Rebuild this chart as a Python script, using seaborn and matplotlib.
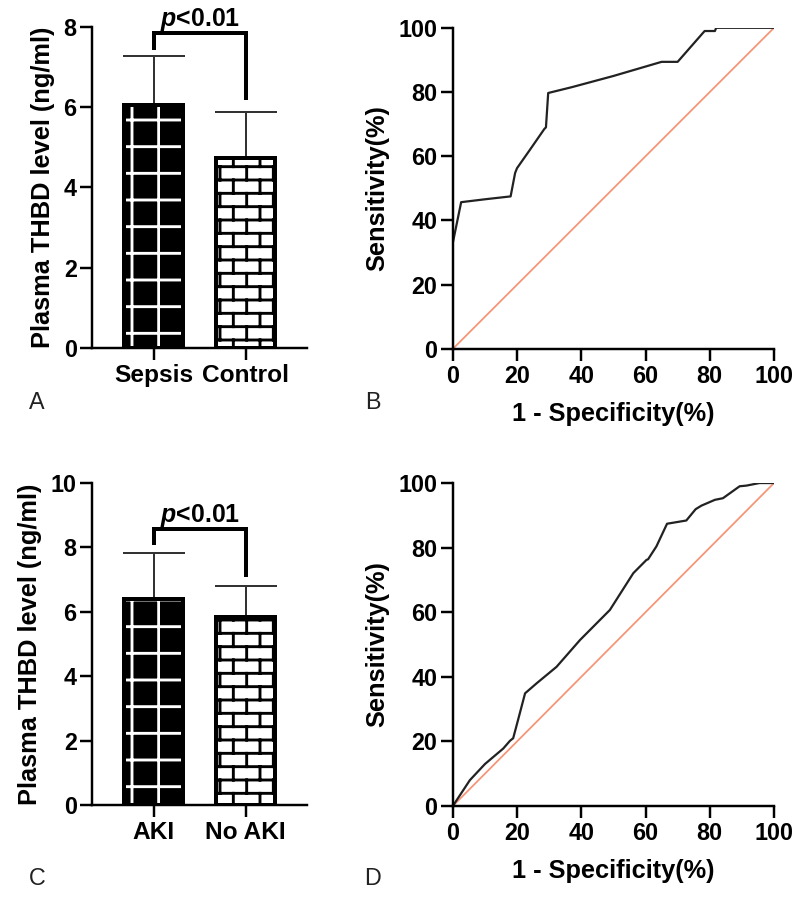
import warnings
import numpy as np
import matplotlib
matplotlib.use("Agg")
import matplotlib.pyplot as plt
from matplotlib import hatch as mhatch
from matplotlib.path import Path
import seaborn as sns

warnings.filterwarnings("ignore")

# ---- data ----
groups_a = ["Sepsis", "Control"]
means_a = [6.06, 4.73]
sd_a = [1.22, 1.15]
bracket_a = [7.43, 6.18, 7.85]   # left leg end, right leg end, top

groups_c = ["AKI", "No AKI"]
means_c = [6.40, 5.84]
sd_c = [1.43, 0.96]
bracket_c = [8.07, 7.08, 8.57]

fpr_b = [0, 0, 2.6, 10, 18, 19.4, 20, 24, 28.5, 29, 29.7, 37, 50, 65, 70, 78.4, 81.6, 82, 100]
tpr_b = [0, 33, 45.7, 46.6, 47.5, 54.8, 56.3, 62, 68.5, 69, 79.7, 81.5, 85, 89.4, 89.4, 99, 99, 100, 100]

fpr_d = [0, 5.3, 10, 15.7, 17.8, 18.8, 20.3, 22.5, 26.1, 32.3, 39.6, 48.9, 56.2, 60.3, 60.8,
         63.4, 66.7, 72.7, 75.6, 77.4, 81.6, 82.6, 84.1, 89.3, 91.4, 95.5, 100]
tpr_d = [0, 8, 13, 17.8, 20.2, 21, 26.6, 34.9, 38, 43.1, 51.4, 60.7, 72.1, 76.2, 76.4,
         80.4, 87.4, 88.4, 91.9, 93.0, 94.8, 95.0, 95.3, 99.0, 99.2, 100, 100]

diag = [0, 100]


# brick hatch ('b') and shifted grid hatch ('g')
class BrickHatch(mhatch.HatchPatternBase):
    def __init__(self, hatch, density):
        self.rows = 12 if "b" in hatch else 0
        self.cols = 6
        if self.rows:
            self.num_vertices = 2 * self.rows + 2 * self.rows * self.cols + 2 * self.cols
        else:
            self.num_vertices = 0

    def set_vertices_and_codes(self, vertices, codes):
        r, c = self.rows, self.cols
        segs = []
        for i in range(r):
            y0 = (i + 0.5) / r
            segs.append(((0.0, y0), (1.0, y0)))
            off = 0.5 * (i % 2)
            for j in range(c):
                x = (j + off + 0.25) / c
                segs.append(((x, y0), (x, min(y0 + 1.0 / r, 1.0))))
        off = 0.5 * ((r - 1) % 2)
        for j in range(c):
            x = (j + off + 0.25) / c
            segs.append(((x, 0.0), (x, 0.5 / r)))
        for k, (p0, p1) in enumerate(segs):
            vertices[2 * k] = p0
            vertices[2 * k + 1] = p1
            codes[2 * k] = Path.MOVETO
            codes[2 * k + 1] = Path.LINETO


class GridHatch(mhatch.HatchPatternBase):
    def __init__(self, hatch, density):
        self.n = 6 if "g" in hatch else 0
        self.num_vertices = 4 * self.n

    def set_vertices_and_codes(self, vertices, codes):
        n = self.n
        segs = []
        for i in range(n):
            y0 = (i + 0.5) / n
            segs.append(((0.0, y0), (1.0, y0)))
        for j in range(n):
            x = (j + 0.95) / n
            segs.append(((x, 0.0), (x, 1.0)))
        for k, (p0, p1) in enumerate(segs):
            vertices[2 * k] = p0
            vertices[2 * k + 1] = p1
            codes[2 * k] = Path.MOVETO
            codes[2 * k + 1] = Path.LINETO


mhatch._hatch_types.append(BrickHatch)
mhatch._hatch_types.append(GridHatch)

sns.set_style("ticks")
plt.rcParams["font.family"] = ["Liberation Sans", "DejaVu Sans"]
plt.rcParams["font.weight"] = "bold"
plt.rcParams["axes.labelweight"] = "bold"
plt.rcParams["text.color"] = "black"
plt.rcParams["axes.labelcolor"] = "black"
plt.rcParams["mathtext.fontset"] = "custom"
plt.rcParams["mathtext.it"] = "Liberation Sans:bold:italic"
plt.rcParams["mathtext.rm"] = "Liberation Sans:bold"
plt.rcParams["hatch.linewidth"] = 1.3

fig = plt.figure(figsize=(5, 5.60625), dpi=160)

ax_a = fig.add_axes([0.115, 0.612, 0.269, 0.358])
ax_b = fig.add_axes([0.566, 0.611, 0.4015, 0.358])
ax_c = fig.add_axes([0.115, 0.1026, 0.269, 0.3589])
ax_d = fig.add_axes([0.566, 0.1014, 0.4015, 0.3601])


def style_axes(ax):
    sns.despine(ax=ax)
    for s in ["left", "bottom"]:
        ax.spines[s].set_linewidth(1.1)
        ax.spines[s].set_color("black")
    ax.tick_params(axis="both", length=5.4, width=1.1, color="black",
                   labelsize=10.5, labelcolor="black")
    ax.tick_params(axis="y", pad=1.5)
    ax.tick_params(axis="x", pad=2)


def bar_panel(ax, groups, means, sd, bracket, ymax):
    sns.barplot(x=groups, y=means, ax=ax, width=0.64, errorbar=None, color="black")
    p0, p1 = ax.patches[0], ax.patches[1]
    p0.set_facecolor("black")
    p0.set_edgecolor("white")
    p0.set_hatch("g")
    p0.set_linewidth(0)
    p1.set_facecolor("white")
    p1.set_edgecolor("black")
    p1.set_hatch("b")
    p1.set_linewidth(0)
    sns.barplot(x=groups, y=means, ax=ax, width=0.64, errorbar=None,
                fill=False, color="black", linewidth=1.8)
    xs = np.arange(len(groups))
    ax.errorbar(xs, means, yerr=[np.zeros(len(sd)), sd], fmt="none",
                ecolor="#333333", elinewidth=0.9, capsize=14, capthick=0.9, zorder=0.5)
    ax.plot([xs[0], xs[0], xs[1], xs[1]],
            [bracket[0], bracket[2], bracket[2], bracket[1]],
            color="black", lw=1.8, solid_joinstyle="miter", solid_capstyle="butt",
            clip_on=False)
    ax.annotate("$p$<0.01", xy=(0.5, bracket[2]), xytext=(0, 3),
                textcoords="offset points", ha="center", va="baseline",
                fontsize=11.2, fontweight="bold", color="black")
    ax.set_xlim(-0.67, 1.67)
    ax.set_ylim(0, ymax)
    ax.set_yticks(np.arange(0, ymax + 1, 2))
    ax.set_ylabel("Plasma THBD level (ng/ml)", fontsize=11.4, labelpad=4)
    ax.set_xlabel("")
    style_axes(ax)
    ax.tick_params(axis="x", labelsize=11)


def roc_panel(ax, fpr, tpr):
    sns.lineplot(x=diag, y=diag, ax=ax, color="#f59576", lw=0.8)
    sns.lineplot(x=fpr, y=tpr, ax=ax, color="#222222", lw=1.0,
                 estimator=None, sort=False)
    ax.set_xlim(0, 100)
    ax.set_ylim(0, 100)
    ax.set_xticks(np.arange(0, 101, 20))
    ax.set_yticks(np.arange(0, 101, 20))
    ax.set_xlabel("1 - Specificity(%)", fontsize=11.4, labelpad=6)
    ax.set_ylabel("Sensitivity(%)", fontsize=11.4, labelpad=4)
    style_axes(ax)


bar_panel(ax_a, groups_a, means_a, sd_a, bracket_a, 8)
bar_panel(ax_c, groups_c, means_c, sd_c, bracket_c, 10)
roc_panel(ax_b, fpr_b, tpr_b)
roc_panel(ax_d, fpr_d, tpr_d)

for lab, x, y in [("A", 0.046, 0.551), ("B", 0.466, 0.551),
                  ("C", 0.046, 0.021), ("D", 0.466, 0.021)]:
    fig.text(x, y, lab, fontsize=10.5, fontweight="normal", color="#222222",
             ha="center", va="center")

fig.savefig("out.png", dpi=160)
